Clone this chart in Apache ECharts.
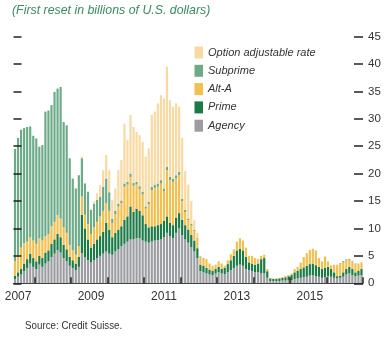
<!DOCTYPE html>
<html>
<head>
<meta charset="utf-8">
<script src="https://cdn.jsdelivr.net/npm/echarts@6/dist/echarts.min.js"></script>
<style>
  html, body { margin: 0; padding: 0; background: #ffffff; }
  #chart { width: 388px; height: 347px; }
</style>
</head>
<body>
<div id="chart"></div>
<script>
// Monthly first resets, June 2007 – December 2016 (billions of U.S. dollars)
const startYear = 2007, startMonth = 6, endYear = 2016;
const months = [];
for (let y = startYear; y <= endYear; y++) {
  for (let m = 1; m <= 12; m++) {
    if (y === startYear && m < startMonth) continue;
    months.push(y + '-' + String(m).padStart(2, '0'));
  }
}

const yearLabels = ['2007', '2009', '2011', '2013', '2015'];
const yTicks = [0, 5, 10, 15, 20, 25, 30, 35, 40, 45];

const agency = [
  0.8, 1.2, 1.6, 2.2, 2.8, 3.6, 3.0,
  2.6, 3.4, 3.0, 3.6, 4.0, 4.8, 5.4, 6.0, 5.6, 4.6, 4.0, 3.2,
  2.8, 2.4, 3.0, 5.5, 4.8, 4.2, 3.8, 4.2, 4.6, 5.0, 5.4, 5.8,
  5.4, 5.2, 5.8, 6.2, 6.8, 7.2, 7.6, 8.0, 8.0, 8.2, 8.2, 7.8,
  7.6, 7.4, 7.6, 7.8, 7.9, 8.0, 8.4, 9.2, 8.6, 8.2, 9.2, 10.0,
  8.8, 8.0, 7.4, 6.6, 5.8, 4.6, 2.2, 2.0, 1.8, 1.6, 1.5, 1.8,
  2.0, 1.8, 1.7, 2.0, 2.4, 2.8, 3.2, 3.4, 3.2, 2.6, 2.4, 2.2,
  2.0, 2.0, 1.8, 1.8, 1.0, 0.4, 0.4, 0.4, 0.4, 0.5, 0.5, 0.6,
  0.6, 0.8, 0.9, 1.0, 1.1, 1.2, 1.4, 1.5, 1.3, 1.2, 1.0, 1.1,
  1.3, 1.2, 1.0, 0.9, 1.0, 1.2, 1.6, 1.8, 1.5, 1.3, 1.4, 1.5
];
const prime = [
  0.6, 0.8, 1.0, 1.4, 1.6, 1.8, 1.6,
  1.4, 1.6, 1.6, 2.0, 2.0, 2.4, 2.6, 3.0, 2.8, 2.4, 2.2, 1.6,
  1.4, 1.2, 1.8, 7.0, 5.2, 3.8, 2.7, 3.0, 3.4, 3.6, 4.0, 5.2,
  4.4, 3.2, 3.4, 3.6, 3.6, 4.4, 4.6, 6.0, 5.0, 5.4, 5.0, 4.6,
  3.2, 2.8, 2.8, 2.6, 2.7, 2.8, 3.0, 3.0, 2.4, 2.4, 2.8, 2.8,
  2.8, 2.6, 2.4, 2.2, 2.0, 1.8, 1.2, 1.2, 1.0, 0.9, 0.8, 0.8,
  1.0, 0.8, 1.1, 1.5, 1.8, 2.2, 2.8, 2.9, 2.8, 2.2, 1.4, 1.4,
  1.4, 1.6, 2.6, 2.8, 1.2, 0.5, 0.4, 0.4, 0.5, 0.5, 0.6, 0.7,
  0.9, 1.2, 1.4, 1.6, 1.8, 2.0, 2.1, 2.1, 2.0, 1.8, 1.6, 1.7,
  1.7, 1.4, 1.0, 0.4, 0.4, 0.8, 1.0, 1.2, 1.1, 0.7, 0.9, 1.1
];
const altA = [
  2.6, 3.0, 3.9, 3.7, 3.2, 3.0, 3.2,
  3.2, 3.2, 3.2, 3.0, 3.0, 3.2, 3.2, 3.4, 3.4, 3.2, 3.0, 2.2,
  1.8, 1.6, 2.0, 3.3, 2.5, 2.8, 2.5, 3.0, 3.2, 3.6, 3.8, 3.6,
  3.4, 2.6, 3.4, 4.2, 4.2, 6.0, 5.8, 5.4, 4.8, 4.4, 4.0, 3.8,
  2.8, 4.2, 6.6, 7.0, 7.0, 7.4, 5.4, 8.4, 7.8, 7.9, 7.1, 6.9,
  3.4, 2.4, 1.7, 1.7, 1.7, 1.8, 1.4, 1.3, 1.6, 1.1, 0.9, 0.8,
  1.0, 1.0, 0.4, 0.7, 1.1, 1.2, 1.6, 1.9, 1.8, 1.7, 1.2, 1.4,
  1.2, 0.8, 0.6, 0.6, 0.4, 0.1, 0.1, 0.1, 0.1, 0.1, 0.2, 0.2,
  0.3, 0.6, 0.7, 1.2, 1.9, 2.3, 2.6, 2.7, 2.7, 1.6, 1.4, 2.1,
  1.0, 0.7, 1.4, 2.1, 2.2, 1.9, 1.6, 1.3, 1.4, 1.5, 1.3, 1.2
];
const subprime = [
  20.5, 21.5, 21.5, 21.0, 20.9, 20.2, 19.1,
  19.2, 16.7, 17.4, 22.7, 22.5, 22.1, 23.7, 23.1, 24.0, 19.2, 19.6, 15.8,
  13.1, 12.1, 12.9, 7.0, 5.7, 5.9, 4.4, 4.3, 4.0, 3.6, 4.4, 4.5,
  3.4, 0.8, 0.6, 0.5, 0.5, 0.6, 0.5, 0.6, 0.5, 0.5, 0.5, 0.5,
  0.4, 0.5, 0.6, 0.6, 0.6, 0.6, 0.5, 0.6, 0.6, 0.6, 0.6, 0.6,
  0.4, 0.4, 0.3, 0.3, 0.2, 0.1, 0.1, 0.1, 0, 0, 0, 0,
  0, 0, 0, 0, 0, 0, 0, 0, 0, 0, 0, 0,
  0, 0, 0, 0, 0, 0, 0, 0, 0, 0, 0, 0,
  0, 0, 0, 0, 0, 0, 0, 0, 0, 0, 0, 0,
  0, 0, 0, 0, 0.1, 0.15, 0.15, 0.15, 0.1, 0.1, 0, 0
];
const optionArm = [
  0, 0, 0, 0, 0, 0, 0,
  0, 0, 0, 0, 0, 0, 0, 0, 0, 0, 0, 0,
  0, 0, 0, 0.3, 0, 0, 0, 0.4, 1.2, 2.1, 3.0, 4.3,
  4.0, 3.4, 4.1, 6.1, 7.4, 10.9, 7.6, 10.7, 10.2, 9.1, 9.3, 9.1,
  9.1, 9.7, 13.1, 13.3, 14.6, 15.5, 16.4, 18.3, 14.0, 13.1, 13.1, 11.9,
  11.1, 7.1, 6.2, 4.2, 1.8, 0.9, 0, 0, 0, 0, 0, 0,
  0, 0, 0, 0, 0, 0, 0, 0, 0, 0, 0, 0,
  0, 0, 0, 0, 0, 0, 0, 0, 0, 0, 0, 0,
  0, 0, 0, 0, 0, 0, 0, 0, 0, 0, 0, 0,
  0, 0, 0, 0, 0, 0, 0, 0, 0, 0, 0, 0
];

const FONT = "'Liberation Sans', Arial, sans-serif";
const INK = '#333333';

const seriesDefs = [
  { name: 'Agency', data: agency, color: '#9c9da2' },
  { name: 'Prime', data: prime, color: '#1b7a45' },
  { name: 'Alt-A', data: altA, color: '#f3bf4f' },
  { name: 'Subprime', data: subprime, color: '#6dab88' },
  { name: 'Option adjustable rate', data: optionArm, color: '#f8d9a2' }
];

const valueAxis = (position, showLabels, tickLen) => ({
  type: 'value',
  position: position,
  min: yTicks[0],
  max: yTicks[yTicks.length - 1],
  interval: yTicks[1] - yTicks[0],
  z: 10,
  axisLine: { show: false },
  splitLine: { show: false },
  axisTick: { show: true, inside: true, length: tickLen, lineStyle: { color: '#222', width: 1.5 } },
  axisLabel: {
    show: showLabels, margin: 5, color: INK, fontFamily: FONT, fontSize: 11.5
  }
});

const chart = echarts.init(document.getElementById('chart'), null, { renderer: 'canvas' });
chart.setOption({
  animation: false,
  backgroundColor: '#ffffff',
  legend: {
    orient: 'vertical',
    left: 194.5, top: 46.5,
    padding: 0,
    itemWidth: 8.5, itemHeight: 12, itemGap: 6.3,
    icon: 'rect',
    data: ['Option adjustable rate', 'Subprime', 'Alt-A', 'Prime', 'Agency'],
    textStyle: { fontFamily: FONT, fontStyle: 'italic', fontSize: 11, color: INK, lineHeight: 12 }
  },
  grid: { left: 13.5, right: 25, top: 36.5, bottom: 63.7, containLabel: false },
  xAxis: {
    type: 'category',
    data: months,
    boundaryGap: true,
    z: 10,
    axisLine: { show: true, lineStyle: { color: '#444', width: 1.2 } },
    axisTick: {
      show: true, inside: true, length: 6,
      interval: (i, v) => v.endsWith('-01'),
      lineStyle: { color: '#222', width: 1.5 }
    },
    axisLabel: {
      show: true, margin: 7, color: INK, fontFamily: FONT, fontSize: 12,
      interval: (i, v) => v.endsWith('-07') && yearLabels.includes(v.slice(0, 4)),
      formatter: v => v.slice(0, 4)
    }
  },
  yAxis: [valueAxis('left', false, 8), valueAxis('right', true, 9)],
  graphic: [
    {
      type: 'text', x: 12, y: 4, scaleX: 0.95,
      style: {
        text: '(First reset in billions of U.S. dollars)',
        fill: '#3b8a63', font: 'italic 13px ' + FONT
      }
    },
    {
      type: 'text', x: 25, y: 320, scaleX: 0.85,
      style: { text: 'Source: Credit Suisse.', fill: INK, font: '11.5px ' + FONT }
    }
  ],
  series: seriesDefs.map(s => ({
    name: s.name,
    type: 'bar',
    stack: 'resets',
    yAxisIndex: 0,
    barCategoryGap: '28%',
    data: s.data,
    itemStyle: { color: s.color },
    emphasis: { disabled: true }
  }))
});
</script>
</body>
</html>
